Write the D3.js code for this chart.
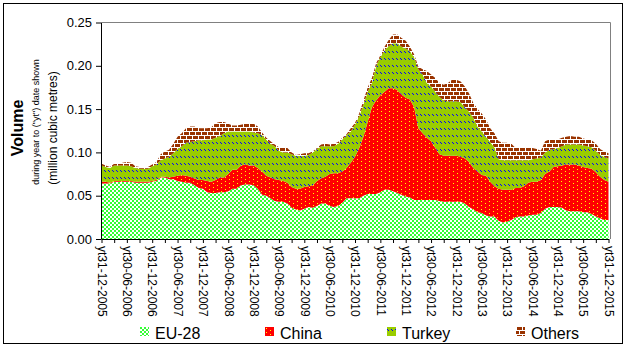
<!DOCTYPE html>
<html><head><meta charset="utf-8">
<script src="https://cdn.jsdelivr.net/npm/d3@7/dist/d3.min.js"></script>
<style>body{margin:0;background:#fff}svg{display:block}text{font-family:"Liberation Sans",Arial,sans-serif}</style>
</head><body><svg id="c" width="628" height="349"></svg>
<script>
// Monthly values, Dec 2005 .. Dec 2015 (121 months)
const eu = [.064,.064,.064,.066,.066,.066,.066,.066,.065,.065,.065,.065,.066,.067,.071,.071,.069,.069,.067,.066,.065,.065,.062,.059,.058,.054,.053,.053,.054,.054,.055,.058,.058,.062,.063,.063,.062,.058,.051,.050,.047,.044,.043,.043,.041,.036,.034,.033,.035,.037,.036,.038,.041,.041,.038,.037,.038,.042,.047,.047,.047,.047,.050,.052,.052,.052,.054,.057,.057,.055,.053,.051,.049,.048,.045,.045,.045,.045,.045,.045,.044,.043,.043,.043,.043,.043,.041,.037,.034,.031,.030,.027,.026,.026,.021,.019,.020,.022,.025,.026,.026,.027,.028,.028,.030,.035,.037,.037,.037,.036,.033,.032,.032,.032,.031,.031,.029,.026,.024,.022,.022];
const china = [.002,.002,.001,.001,.001,.001,.001,.001,.001,.001,.001,.001,.001,.001,.001,.001,.002,.003,.006,.008,.008,.007,.008,.009,.010,.013,.013,.015,.017,.017,.020,.022,.022,.023,.023,.022,.023,.024,.027,.023,.024,.025,.025,.024,.024,.024,.024,.025,.025,.024,.026,.029,.029,.031,.037,.039,.038,.036,.035,.041,.048,.058,.068,.083,.100,.108,.112,.113,.117,.119,.119,.116,.114,.113,.107,.083,.077,.072,.068,.060,.054,.053,.053,.053,.053,.052,.052,.052,.048,.047,.044,.046,.040,.035,.037,.038,.037,.035,.034,.033,.035,.038,.038,.038,.038,.040,.041,.046,.047,.049,.053,.054,.054,.053,.052,.051,.052,.051,.048,.046,.044];
const turkey = [.019,.017,.017,.018,.018,.018,.018,.017,.016,.015,.015,.015,.017,.018,.019,.021,.024,.027,.031,.033,.038,.040,.043,.046,.046,.048,.049,.049,.048,.051,.049,.044,.044,.039,.038,.039,.038,.040,.042,.042,.039,.038,.034,.033,.035,.038,.038,.038,.036,.036,.038,.037,.037,.035,.032,.031,.034,.037,.038,.036,.037,.037,.037,.035,.028,.040,.044,.048,.049,.052,.054,.055,.057,.056,.058,.068,.068,.063,.063,.065,.066,.064,.063,.063,.063,.063,.059,.058,.058,.052,.050,.045,.046,.045,.034,.034,.034,.034,.032,.032,.030,.026,.026,.027,.026,.025,.025,.021,.021,.022,.023,.023,.023,.024,.025,.025,.025,.025,.025,.027,.027];
const others = [.002,.002,.001,.002,.002,.003,.004,.004,.002,.002,.002,.002,.002,.003,.007,.008,.008,.011,.014,.015,.017,.018,.017,.014,.014,.013,.014,.017,.016,.013,.009,.007,.007,.008,.009,.009,.010,.008,.003,.002,.003,.002,.004,.006,.005,.002,.001,.002,.003,.002,.001,.001,.002,.003,.002,.003,.002,.002,.001,.004,.002,.003,.005,.005,.006,.003,.002,.004,.007,.010,.010,.010,.009,.005,.003,.003,.006,.014,.014,.016,.016,.018,.021,.025,.025,.024,.024,.021,.017,.020,.021,.020,.016,.016,.021,.020,.020,.019,.014,.014,.014,.014,.013,.011,.008,.013,.012,.011,.010,.010,.009,.010,.009,.009,.008,.008,.008,.008,.007,.006,.006];
const seriesNames = ["EU-28","China","Turkey","Others"];
const yTicks = [0,0.05,0.10,0.15,0.20,0.25];
const halfYearLabels = ["yt31-12-2005","yt30-06-2006","yt31-12-2006","yt30-06-2007","yt31-12-2007","yt30-06-2008","yt31-12-2008","yt30-06-2009","yt31-12-2009","yt30-06-2010","yt31-12-2010","yt30-06-2011","yt31-12-2011","yt30-06-2012","yt31-12-2012","yt30-06-2013","yt31-12-2013","yt30-06-2014","yt31-12-2014","yt30-06-2015","yt31-12-2015"];

const rows = eu.map((v,i)=>({i, "EU-28":v, "China":china[i], "Turkey":turkey[i], "Others":others[i]}));
const svg = d3.select("#c");
const defs = svg.append("defs");

function pat(id,w,h,bg,cells){
  const p = defs.append("pattern").attr("id",id).attr("patternUnits","userSpaceOnUse").attr("width",w).attr("height",h);
  p.append("rect").attr("width",w).attr("height",h).attr("fill",bg);
  cells.forEach(c=>p.append("rect").attr("x",c[0]).attr("y",c[1]).attr("width",c[2]).attr("height",c[3]).attr("fill",c[4]));
}
pat("pEU",4,4,"#ffffff",[[0,0,2,2,"#33ff33"],[2,2,2,2,"#33ff33"]]);
pat("pCN",8,4,"#ff0000",[[1,1,1,1,"#ffff00"],[5,3,1,1,"#ffff00"]]);
pat("pTR",4,7,"#99cc00",[[0,2,1,1,"#0000ff"],[1,3,1,1,"#0000ff"]]);
pat("pOT",6,8,"#993300",[[0,3,6,1,"#ffffff"],[0,7,6,1,"#ffffff"],[0,0,1,3,"#ffffff"],[3,4,1,3,"#ffffff"]]);
const fills = {"EU-28":"url(#pEU)","China":"url(#pCN)","Turkey":"url(#pTR)","Others":"url(#pOT)"};

const x = d3.scaleLinear().domain([0,120]).range([101.5,608.5]);
const y = d3.scaleLinear().domain([0,0.25]).range([239,22.5]);

const stack = d3.stack().keys(seriesNames)(rows);
const area = d3.area().x(d=>x(d.data.i)).y0(d=>y(d[0])).y1(d=>y(d[1]));
svg.append("g").selectAll("path").data(stack).join("path")
  .attr("d",area).attr("fill",d=>fills[d.key]);

// plot border (top & right)
svg.append("path").attr("d",`M101,22.5H610.5V239`).attr("fill","none").attr("stroke","#808080");

// y axis
const ya = svg.append("g").attr("transform","translate(101,0)")
  .call(d3.axisLeft(y).tickValues(yTicks).tickFormat(d3.format(".2f")).tickSize(5).tickSizeOuter(0));
ya.select(".domain").attr("stroke","#000");
ya.selectAll("text").attr("font-size",13).attr("fill","#000").attr("x",-9);

// x axis
const xa = svg.append("g").attr("transform","translate(0,239)")
  .call(d3.axisBottom(x).tickValues(d3.range(0,121,3)).tickFormat(d=> d%6===0 ? halfYearLabels[d/6] : "").tickSize(4).tickSizeOuter(0));
xa.selectAll("text").attr("font-size",12).attr("fill","#000")
  .attr("transform","rotate(90)").attr("text-anchor","start").attr("x",7).attr("y",0).attr("dy","0.35em");

// y titles
svg.append("text").attr("transform","translate(17,128) rotate(-90)").attr("text-anchor","middle").attr("dy","0.35em")
  .attr("font-size",16).attr("font-weight","bold").text("Volume");
svg.append("text").attr("transform","translate(36,122) rotate(-90)").attr("text-anchor","middle").attr("dy","0.35em")
  .attr("font-size",9).text('during year to ("yt") date shown');
svg.append("text").attr("transform","translate(52.5,128) rotate(-90)").attr("text-anchor","middle").attr("dy","0.35em")
  .attr("font-size",12).text("(million cubic metres)");

// legend
const legX = [140,265,387,516];
const lg = svg.append("g").selectAll("g").data(seriesNames).join("g")
  .attr("transform",(d,i)=>`translate(${legX[i]},327)`);
lg.append("rect").attr("width",9).attr("height",9).attr("fill",d=>fills[d]);
lg.append("text").attr("x",15).attr("y",12).attr("font-size",16).text(d=>d);

// outer frame
svg.append("rect").attr("x",3.5).attr("y",3.5).attr("width",619).attr("height",340).attr("fill","none").attr("stroke","#000");
</script></body></html>
